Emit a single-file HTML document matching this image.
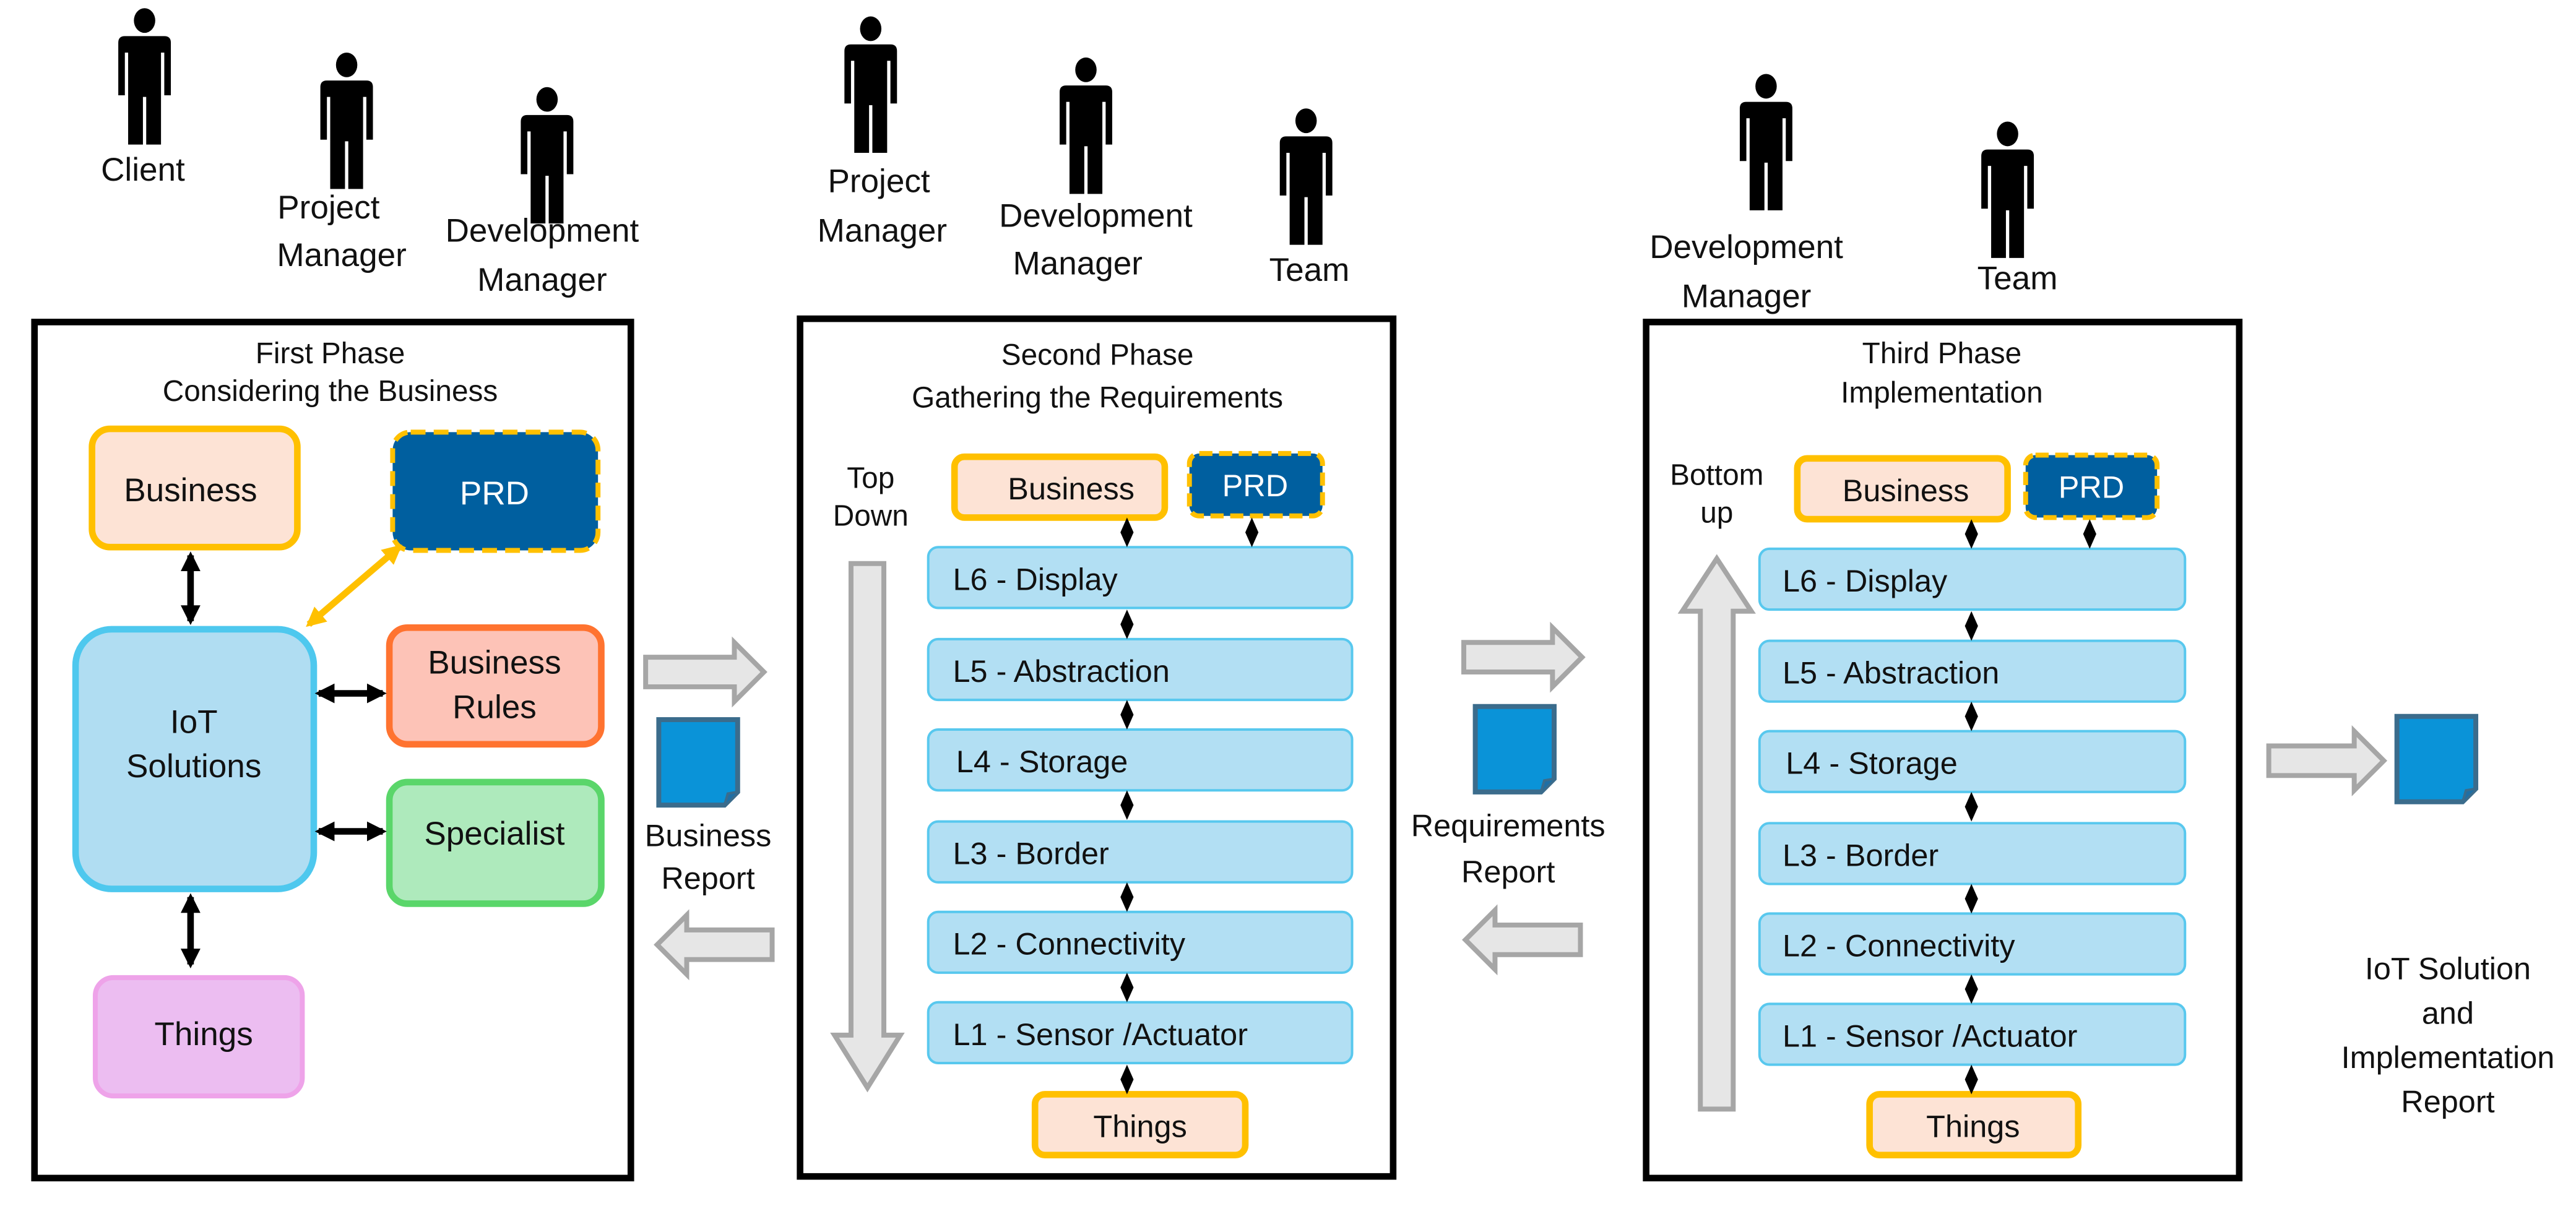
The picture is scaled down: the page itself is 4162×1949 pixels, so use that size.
<!DOCTYPE html>
<html><head><meta charset="utf-8"><style>
html,body{margin:0;padding:0;background:#fff;}
svg{display:block;}
text{font-family:"Liberation Sans",sans-serif;fill:#111;}
</style></head><body>
<svg width="4162" height="1949" viewBox="0 0 1568 734" preserveAspectRatio="none" xmlns="http://www.w3.org/2000/svg">
<defs>
<g id="person">
<ellipse cx="0" cy="7.5" rx="6.5" ry="7.5" fill="#000"/>
<path d="M-16 21 Q-16 17 -12 17 L12 17 Q16 17 16 21 L16 53 L12 53 L12 27 L10 27 L10 83 L1 83 L1 54 L-1 54 L-1 83 L-10 83 L-10 27 L-12 27 L-12 53 L-16 53 Z" fill="#000"/>
</g>
<g id="doc">
<path d="M0 0 L48 0 L48 44 L40 52 L0 52 Z" fill="#0a93d8" stroke="#3b6c8c" stroke-width="3"/>
<path d="M40 52 L42 45 L48 44" fill="#1f6fa5" stroke="#3b6c8c" stroke-width="1.5"/>
</g>
<marker id="ah" viewBox="0 0 10 10" refX="8" refY="5" markerWidth="3" markerHeight="3" orient="auto-start-reverse"><path d="M0 0 L10 5 L0 10 Z" fill="#000"/></marker>
<marker id="ahy" viewBox="0 0 10 10" refX="8" refY="5" markerWidth="3" markerHeight="3" orient="auto-start-reverse"><path d="M0 0 L10 5 L0 10 Z" fill="#ffc000"/></marker>
<g id="dia"><path d="M0 -9 L4 0 L0 9 L-4 0 Z" fill="#000"/></g>
</defs>

<!-- people -->
<use href="#person" x="88" y="5"/>
<use href="#person" x="211" y="32"/>
<use href="#person" x="333" y="53"/>
<use href="#person" x="530" y="10"/>
<use href="#person" x="661" y="35"/>
<use href="#person" x="795" y="66"/>
<use href="#person" x="1075" y="45"/>
<use href="#person" x="1222" y="74"/>
<g font-size="20" text-anchor="middle">
<text x="87" y="110">Client</text>
<text x="200" y="133">Project</text><text x="208" y="162">Manager</text>
<text x="330" y="147">Development</text><text x="330" y="177">Manager</text>
<text x="535" y="117">Project</text><text x="537" y="147">Manager</text>
<text x="667" y="138">Development</text><text x="656" y="167">Manager</text>
<text x="797" y="171">Team</text>
<text x="1063" y="157">Development</text><text x="1063" y="187">Manager</text>
<text x="1228" y="176">Team</text>
</g>

<!-- Box 1 -->
<rect x="21" y="196" width="363" height="521" fill="none" stroke="#000" stroke-width="4"/>
<g font-size="18" text-anchor="middle">
<text x="201" y="221">First Phase</text>
<text x="201" y="244">Considering the Business</text>
</g>
<rect x="56" y="261" width="125" height="72" rx="11" fill="#fde3d5" stroke="#ffc000" stroke-width="4"/>
<text x="116" y="305" font-size="20" text-anchor="middle">Business</text>
<rect x="239" y="263" width="125" height="72" rx="11" fill="#005f9f" stroke="#ffc000" stroke-width="3" stroke-dasharray="9 5"/>
<text x="301" y="307" font-size="20" text-anchor="middle" style="fill:#fff">PRD</text>
<rect x="46" y="383" width="145" height="158" rx="22" fill="#b0ddf2" stroke="#4ec8ee" stroke-width="4"/>
<text x="118" y="446" font-size="20" text-anchor="middle">IoT</text>
<text x="118" y="473" font-size="20" text-anchor="middle">Solutions</text>
<rect x="237" y="382" width="129" height="71" rx="11" fill="#fdc3b7" stroke="#ff7330" stroke-width="4"/>
<text x="301" y="410" font-size="20" text-anchor="middle">Business</text>
<text x="301" y="437" font-size="20" text-anchor="middle">Rules</text>
<rect x="237" y="476" width="129" height="74" rx="11" fill="#aeeabc" stroke="#5ad66a" stroke-width="4"/>
<text x="301" y="514" font-size="20" text-anchor="middle">Specialist</text>
<rect x="58" y="595" width="126" height="72" rx="11" fill="#ecbdf1" stroke="#eea3e9" stroke-width="3"/>
<text x="124" y="636" font-size="20" text-anchor="middle">Things</text>
<g stroke="#000" stroke-width="4">
<line x1="116" y1="338" x2="116" y2="378" marker-start="url(#ah)" marker-end="url(#ah)"/>
<line x1="116" y1="546" x2="116" y2="587" marker-start="url(#ah)" marker-end="url(#ah)"/>
<line x1="194" y1="422" x2="233" y2="422" marker-start="url(#ah)" marker-end="url(#ah)"/>
<line x1="194" y1="506" x2="233" y2="506" marker-start="url(#ah)" marker-end="url(#ah)"/>
</g>
<line x1="188" y1="380" x2="243" y2="333" stroke="#ffc000" stroke-width="4" marker-start="url(#ahy)" marker-end="url(#ahy)"/>

<!-- Between 1 and 2 -->
<path d="M393 400 L447 400 L447 391 L465 409 L447 427 L447 418 L393 418 Z" fill="#e6e6e6" stroke="#a6a6a6" stroke-width="3"/>
<path d="M470 566 L418 566 L418 557 L400 575 L418 593 L418 584 L470 584 Z" fill="#e6e6e6" stroke="#a6a6a6" stroke-width="3"/>
<use href="#doc" x="401" y="438"/>
<text x="431" y="515" font-size="19" text-anchor="middle">Business</text>
<text x="431" y="541" font-size="19" text-anchor="middle">Report</text>

<!-- Box 2 -->
<rect x="487" y="194" width="361" height="522" fill="none" stroke="#000" stroke-width="4"/>
<g font-size="18" text-anchor="middle">
<text x="668" y="222">Second Phase</text>
<text x="668" y="248">Gathering the Requirements</text>
<text x="530" y="297">Top</text>
<text x="530" y="320">Down</text>
</g>
<rect x="581" y="278" width="128" height="37" rx="6" fill="#fde3d5" stroke="#ffc000" stroke-width="4"/>
<text x="652" y="304" font-size="19" text-anchor="middle">Business</text>
<rect x="724" y="276" width="81" height="38" rx="6" fill="#005f9f" stroke="#ffc000" stroke-width="3" stroke-dasharray="8 4"/>
<text x="764" y="302" font-size="19" text-anchor="middle" style="fill:#fff">PRD</text>
<path d="M518 343 L538 343 L538 630 L548 630 L528 662 L508 630 L518 630 Z" fill="#e6e6e6" stroke="#a6a6a6" stroke-width="3"/>
<g fill="#b2dff3" stroke="#58c8ee" stroke-width="1.5">
<rect x="565" y="333" width="258" height="37" rx="6"/>
<rect x="565" y="389" width="258" height="37" rx="6"/>
<rect x="565" y="444" width="258" height="37" rx="6"/>
<rect x="565" y="500" width="258" height="37" rx="6"/>
<rect x="565" y="555" width="258" height="37" rx="6"/>
<rect x="565" y="610" width="258" height="37" rx="6"/>
</g>
<g font-size="19">
<text x="580" y="359">L6 - Display</text>
<text x="580" y="415">L5 - Abstraction</text>
<text x="582" y="470">L4 - Storage</text>
<text x="580" y="526">L3 - Border</text>
<text x="580" y="581">L2 - Connectivity</text>
<text x="580" y="636">L1 - Sensor /Actuator</text>
</g>
<rect x="630" y="666" width="128" height="37" rx="6" fill="#fde3d5" stroke="#ffc000" stroke-width="4"/>
<text x="694" y="692" font-size="19" text-anchor="middle">Things</text>
<use href="#dia" x="686" y="324"/><use href="#dia" x="762" y="324"/>
<use href="#dia" x="686" y="380"/><use href="#dia" x="686" y="435"/>
<use href="#dia" x="686" y="490"/><use href="#dia" x="686" y="546"/>
<use href="#dia" x="686" y="601"/><use href="#dia" x="686" y="657"/>

<!-- Between 2 and 3 -->
<path d="M891 391 L945 391 L945 382 L963 400 L945 418 L945 409 L891 409 Z" fill="#e6e6e6" stroke="#a6a6a6" stroke-width="3"/>
<path d="M962 563 L910 563 L910 554 L892 572 L910 590 L910 581 L962 581 Z" fill="#e6e6e6" stroke="#a6a6a6" stroke-width="3"/>
<use href="#doc" x="898" y="430"/>
<text x="918" y="509" font-size="19" text-anchor="middle">Requirements</text>
<text x="918" y="537" font-size="19" text-anchor="middle">Report</text>

<!-- Box 3 -->
<rect x="1002" y="196" width="361" height="521" fill="none" stroke="#000" stroke-width="4"/>
<g font-size="18" text-anchor="middle">
<text x="1182" y="221">Third Phase</text>
<text x="1182" y="245">Implementation</text>
<text x="1045" y="295">Bottom</text>
<text x="1045" y="318">up</text>
</g>
<rect x="1094" y="279" width="128" height="37" rx="6" fill="#fde3d5" stroke="#ffc000" stroke-width="4"/>
<text x="1160" y="305" font-size="19" text-anchor="middle">Business</text>
<rect x="1233" y="277" width="80" height="38" rx="6" fill="#005f9f" stroke="#ffc000" stroke-width="3" stroke-dasharray="8 4"/>
<text x="1273" y="303" font-size="19" text-anchor="middle" style="fill:#fff">PRD</text>
<path d="M1035 675 L1055 675 L1055 372 L1066 372 L1045 340 L1024 372 L1035 372 Z" fill="#e6e6e6" stroke="#a6a6a6" stroke-width="3"/>
<g fill="#b2dff3" stroke="#58c8ee" stroke-width="1.5">
<rect x="1071" y="334" width="259" height="37" rx="6"/>
<rect x="1071" y="390" width="259" height="37" rx="6"/>
<rect x="1071" y="445" width="259" height="37" rx="6"/>
<rect x="1071" y="501" width="259" height="37" rx="6"/>
<rect x="1071" y="556" width="259" height="37" rx="6"/>
<rect x="1071" y="611" width="259" height="37" rx="6"/>
</g>
<g font-size="19">
<text x="1085" y="360">L6 - Display</text>
<text x="1085" y="416">L5 - Abstraction</text>
<text x="1087" y="471">L4 - Storage</text>
<text x="1085" y="527">L3 - Border</text>
<text x="1085" y="582">L2 - Connectivity</text>
<text x="1085" y="637">L1 - Sensor /Actuator</text>
</g>
<rect x="1138" y="666" width="127" height="37" rx="6" fill="#fde3d5" stroke="#ffc000" stroke-width="4"/>
<text x="1201" y="692" font-size="19" text-anchor="middle">Things</text>
<use href="#dia" x="1200" y="325"/><use href="#dia" x="1272" y="325"/>
<use href="#dia" x="1200" y="381"/><use href="#dia" x="1200" y="436"/>
<use href="#dia" x="1200" y="491"/><use href="#dia" x="1200" y="547"/>
<use href="#dia" x="1200" y="602"/><use href="#dia" x="1200" y="657"/>

<!-- Output -->
<path d="M1381 454 L1433 454 L1433 445 L1451 463 L1433 481 L1433 472 L1381 472 Z" fill="#e6e6e6" stroke="#a6a6a6" stroke-width="3"/>
<use href="#doc" x="1459" y="436"/>
<g font-size="19" text-anchor="middle">
<text x="1490" y="596">IoT Solution</text>
<text x="1490" y="623">and</text>
<text x="1490" y="650">Implementation</text>
<text x="1490" y="677">Report</text>
</g>
</svg>
</body></html>
